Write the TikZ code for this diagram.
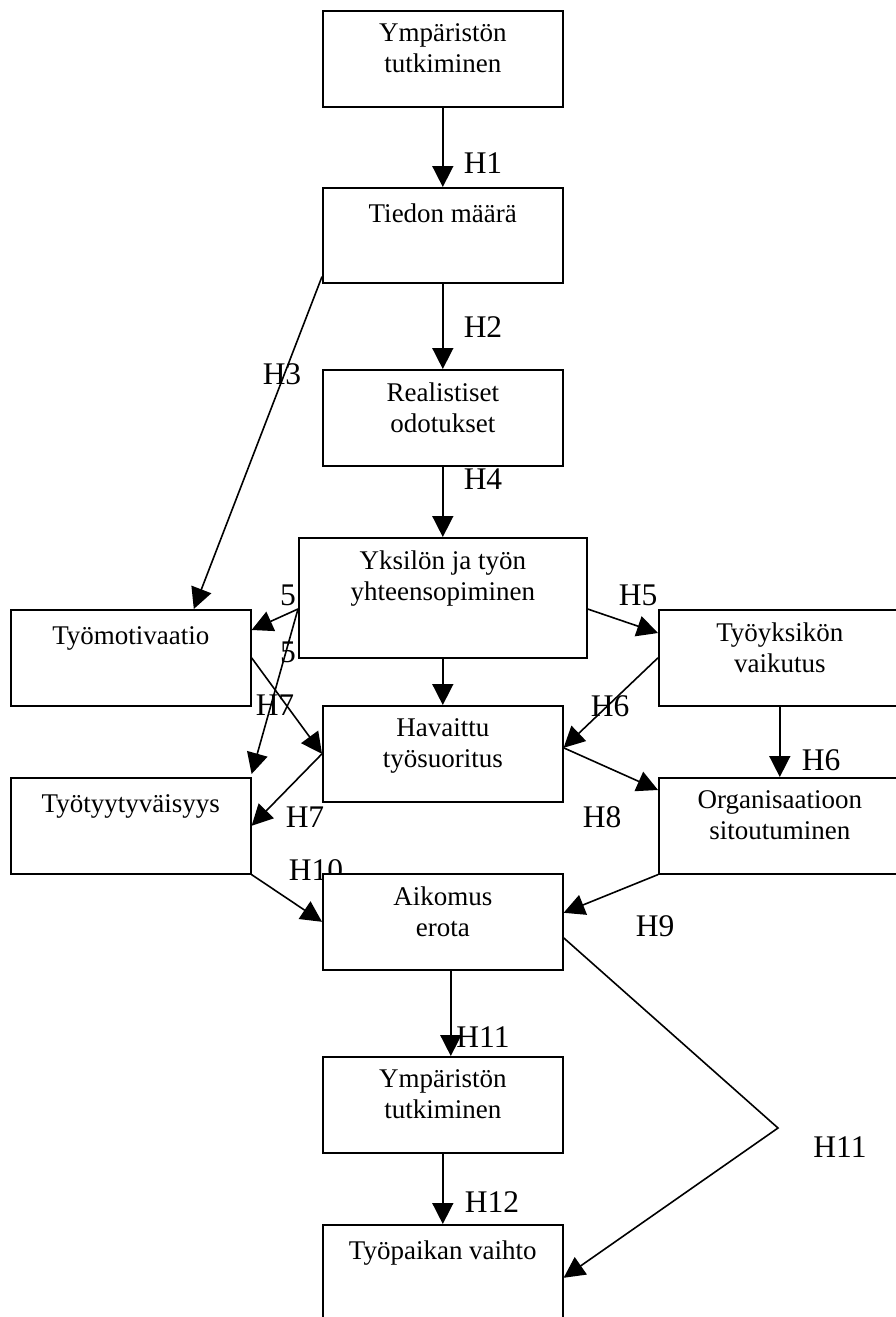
\documentclass[tikz,border=0pt]{standalone}
\usepackage{fontspec}
\setmainfont{Liberation Serif}
\usetikzlibrary{arrows.meta}
\newcommand\boxfont{\fontsize{27}{31}\selectfont}
\newcommand\labfont{\fontsize{31.5}{36}\selectfont}
\begin{document}
\begin{tikzpicture}[x=1pt,y=-1pt,
  box/.style={draw, line width=1.6pt, fill=white, rectangle, inner sep=0pt, anchor=north west},
  txt/.style={anchor=north, inner sep=0pt, align=center, font=\boxfont, execute at begin node=\strut},
  lab/.style={inner sep=0pt, font=\labfont},
  arr/.style={line width=1.6pt, -{Triangle[length=21pt,width=21pt]}}
]
\useasboundingbox (0,0) rectangle (896,1317);
\clip (0,0) rectangle (896,1317);

% labels (drawn first; H10 is partly covered by the Aikomus box)
\node[lab] (lH1) at (483,163) {H1};
\node[lab] (lH2) at (483,327) {H2};
\node[lab] (lH3) at (282,374) {H3};
\node[lab] (lH4) at (483,479) {H4};
\node[lab] (l5a) at (288,595) {5};
\node[lab] (l5b) at (288,652) {5};
\node[lab] (lH5) at (638,595) {H5};
\node[lab] (lH7a) at (275,705) {H7};
\node[lab] (lH6a) at (610,706) {H6};
\node[lab] (lH6b) at (821,760) {H6};
\node[lab] (lH7b) at (305,817) {H7};
\node[lab] (lH8) at (602,817) {H8};
\node[lab] (lH10) at (316,870) {H10};
\node[lab] (lH9) at (655,926) {H9};
\node[lab] (lH11a) at (483,1037) {H11};
\node[lab] (lH11b) at (840,1147) {H11};
\node[lab] (lH12) at (492,1202) {H12};

% boxes
\node[box, minimum width=240pt, minimum height=96pt] (b1) at (322,10) {};
\node[box, minimum width=240pt, minimum height=95pt] (b2) at (322,187) {};
\node[box, minimum width=240pt, minimum height=96pt] (b3) at (322,369) {};
\node[box, minimum width=288pt, minimum height=120pt] (b4) at (298,537) {};
\node[box, minimum width=240pt, minimum height=96pt] (b5) at (10,609) {};
\node[box, minimum width=242pt, minimum height=96pt] (b6) at (658,609) {};
\node[box, minimum width=240pt, minimum height=96pt] (b7) at (322,705) {};
\node[box, minimum width=240pt, minimum height=96pt] (b8) at (10,777) {};
\node[box, minimum width=242pt, minimum height=96pt] (b9) at (658,777) {};
\node[box, minimum width=240pt, minimum height=96pt] (b10) at (322,873) {};
\node[box, minimum width=240pt, minimum height=96pt] (b11) at (322,1056) {};
\node[box, minimum width=240pt, minimum height=96pt] (b12) at (322,1224) {};

% box texts
\node[txt] (t1) at ([yshift=-13.3pt]b1.north) {Ympäristön\\tutkiminen};
\node[txt] (t2) at ([yshift=-13.3pt]b2.north) {Tiedon määrä};
\node[txt] (t3) at ([yshift=-13.3pt]b3.north) {Realistiset\\odotukset};
\node[txt] (t4) at ([yshift=-13.3pt]b4.north) {Yksilön ja työn\\yhteensopiminen};
\node[txt] (t5) at ([yshift=-13.3pt]b5.north) {Työmotivaatio};
\node[txt] (t6) at ([yshift=-13.3pt]b6.north) {Työyksikön\\vaikutus};
\node[txt] (t7) at ([yshift=-13.3pt]b7.north) {Havaittu\\työsuoritus};
\node[txt] (t8) at ([yshift=-13.3pt]b8.north) {Työtyytyväisyys};
\node[txt] (t9) at ([yshift=-13.3pt]b9.north) {Organisaatioon\\sitoutuminen};
\node[txt] (t10) at ([yshift=-13.3pt]b10.north) {Aikomus\\erota};
\node[txt] (t11) at ([yshift=-13.3pt]b11.north) {Ympäristön\\tutkiminen};
\node[txt] (t12) at ([yshift=-13.3pt]b12.north) {Työpaikan vaihto};

% connectors
\draw[arr] (b1.south) -- (b2.north);
\draw[arr] (b2.south) -- (b3.north);
\draw[arr] ([yshift=7pt]b2.south west) -- ([xshift=63pt]b5.north);
\draw[arr] (b3.south) -- (b4.north);
\draw[arr] (b4.south) -- (b7.north);
\draw[arr] ([yshift=-72pt]b4.north west) -- ([yshift=-21pt]b5.north east);
\draw[arr] ([yshift=-72pt]b4.north west) -- ([yshift=3pt]b8.north east);
\draw[arr] (b5.east) -- (b7.west);
\draw[arr] (b7.west) -- (b8.east);
\draw[arr] ([yshift=-72pt]b4.north east) -- ([yshift=-24pt]b6.north west);
\draw[arr] (b6.west) -- ([yshift=6pt]b7.east);
\draw[arr] ([yshift=6pt]b7.east) -- ([yshift=-13pt]b9.north west);
\draw[arr] (b6.south) -- (b9.north);
\draw[arr] (b8.south east) -- (b10.west);
\draw[arr] (b9.south west) -- ([yshift=9pt]b10.east);
\draw[arr] ([xshift=8pt]b10.south) -- ([xshift=8pt]b11.north);
\draw[arr] (b11.south) -- (b12.north);
\coordinate (k) at (778,1128);
\draw[arr] ([yshift=-16pt]b10.east) -- (k) -- ([yshift=-5pt]b12.east);
\end{tikzpicture}
\end{document}
